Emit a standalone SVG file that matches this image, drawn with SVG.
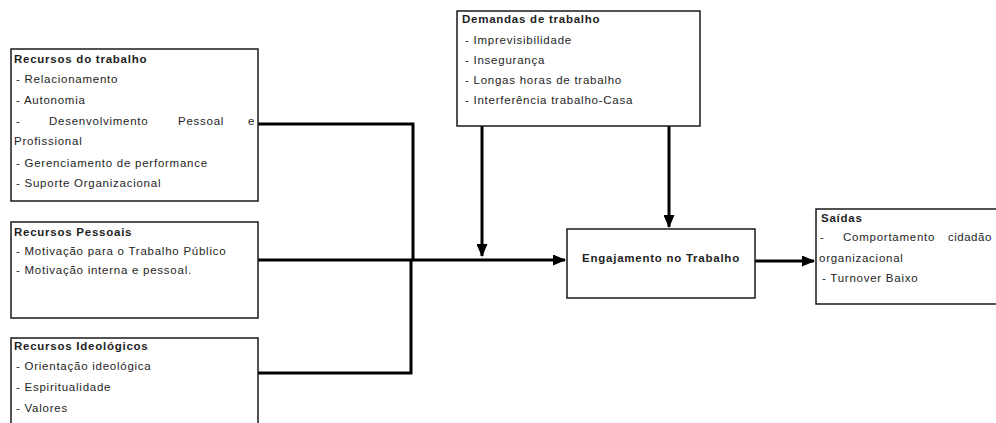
<svg xmlns="http://www.w3.org/2000/svg" width="996" height="423" viewBox="0 0 996 423">
<style>
text{font-family:"Liberation Sans",Arial,sans-serif;font-size:11.5px;letter-spacing:0.75px;fill:#1e1e1e}
.t{font-weight:bold}
.box{fill:#fff;stroke:#1a1a1a;stroke-width:1.5}
.c{fill:none;stroke:#000;stroke-width:3}
</style>
<defs>
<marker id="ah" markerWidth="13" markerHeight="11" refX="12" refY="5.5" orient="auto" markerUnits="userSpaceOnUse">
<path d="M0,0 L13,5.5 L0,11 Z" fill="#000"/>
</marker>
</defs>
<rect width="996" height="423" fill="#fff"/>
<g id="connectors">
<polyline class="c" points="258,124 413,124 413,260"/>
<polyline class="c" points="258,373 411,373 411,260"/>
<line class="c" x1="258" y1="260" x2="565" y2="260" marker-end="url(#ah)"/>
<line class="c" x1="482" y1="126" x2="482" y2="256" marker-end="url(#ah)"/>
<line class="c" x1="669" y1="126" x2="669" y2="227" marker-end="url(#ah)"/>
<line class="c" x1="755" y1="261" x2="814" y2="261" marker-end="url(#ah)"/>
</g>
<g id="recursos-trabalho">
<rect class="box" x="11" y="49" width="247" height="152"/>
<text class="t" x="14" y="63">Recursos do trabalho</text>
<text x="16" y="83">- Relacionamento</text>
<text x="16" y="104">- Autonomia</text>
<text x="16" y="125">-</text>
<text x="49" y="125">Desenvolvimento</text>
<text x="178" y="125">Pessoal</text>
<text x="248" y="125">e</text>
<text x="14" y="145">Profissional</text>
<text x="16" y="167">- Gerenciamento de performance</text>
<text x="16" y="187">- Suporte Organizacional</text>
</g>
<g id="recursos-pessoais">
<rect class="box" x="11" y="222" width="247" height="96"/>
<text class="t" x="14" y="236">Recursos Pessoais</text>
<text x="16" y="255">- Motivação para o Trabalho Público</text>
<text x="16" y="274">- Motivação interna e pessoal.</text>
</g>
<g id="recursos-ideologicos">
<rect class="box" x="11" y="338" width="247" height="100"/>
<text class="t" x="14" y="350">Recursos Ideológicos</text>
<text x="16" y="370">- Orientação ideológica</text>
<text x="16" y="391">- Espiritualidade</text>
<text x="16" y="412">- Valores</text>
</g>
<g id="demandas">
<rect class="box" x="457" y="11" width="243" height="115"/>
<text class="t" x="462" y="23">Demandas de trabalho</text>
<text x="465" y="44">- Imprevisibilidade</text>
<text x="465" y="64">- Insegurança</text>
<text x="465" y="84">- Longas horas de trabalho</text>
<text x="465" y="104">- Interferência trabalho-Casa</text>
</g>
<g id="engajamento">
<rect class="box" x="567" y="229" width="188" height="69"/>
<text class="t" x="661" y="262" text-anchor="middle">Engajamento no Trabalho</text>
</g>
<g id="saidas">
<rect class="box" x="816" y="209" width="190" height="95"/>
<text class="t" x="821" y="222">Saídas</text>
<text x="820" y="241">-</text>
<text x="843" y="241">Comportamento</text>
<text x="948" y="241" style="letter-spacing:0.5px">cidadão</text>
<text x="819" y="262">organizacional</text>
<text x="822" y="282">- Turnover Baixo</text>
</g>
</svg>
